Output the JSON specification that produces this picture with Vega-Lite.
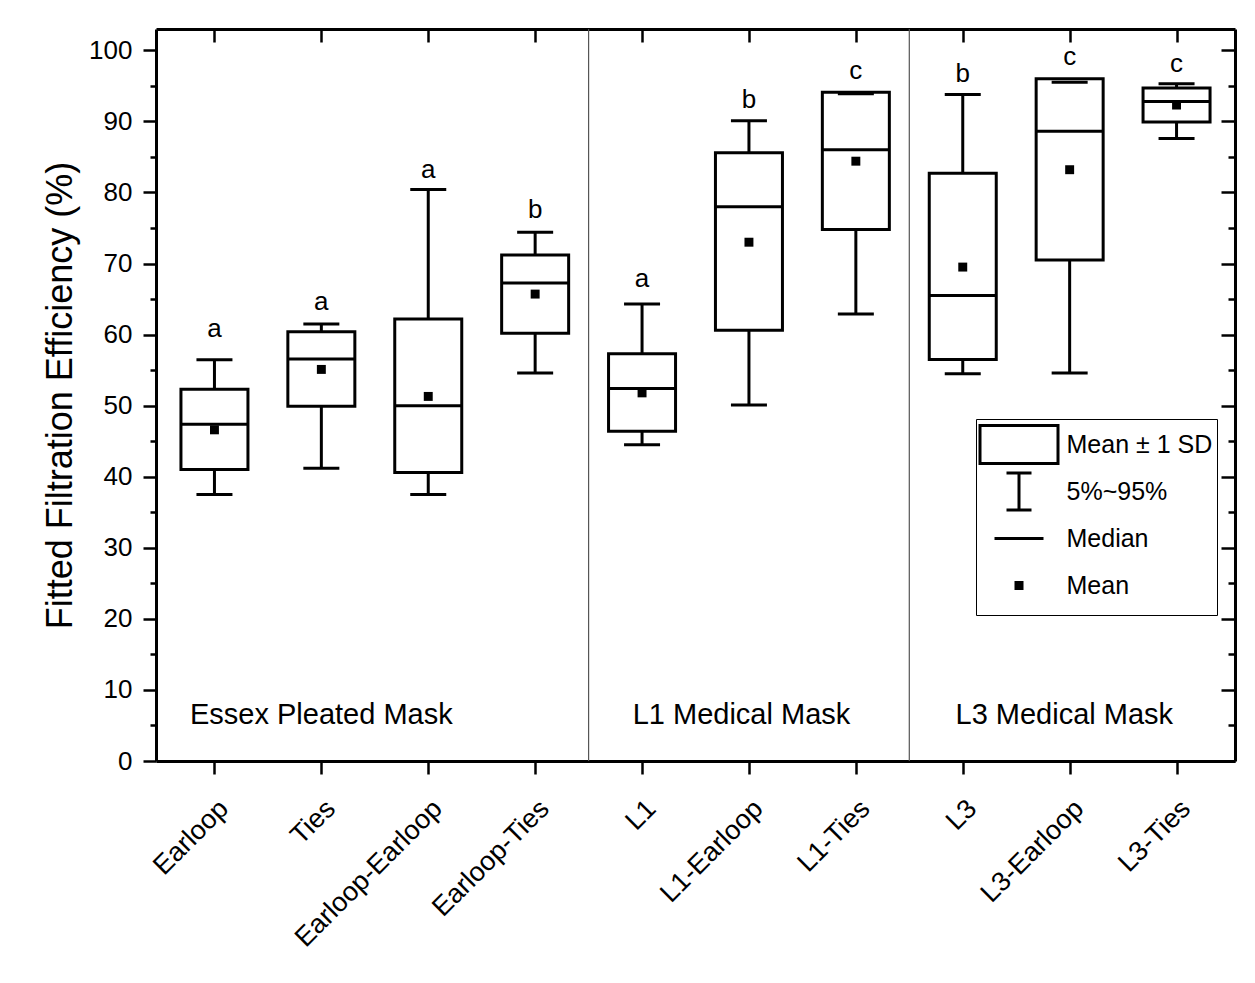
{
  "$schema": "https://vega.github.io/schema/vega-lite/v6.json",
  "width": 1079,
  "height": 732,
  "autosize": {"type": "none"},
  "padding": {"left": 156, "top": 29, "right": 20, "bottom": 222},
  "background": "white",
  "config": {
    "font": "Liberation Sans",
    "view": {"stroke": null},
    "axis": {"grid": false, "domainColor": "black", "tickColor": "black", "labelColor": "black", "titleColor": "black", "domainWidth": 3, "tickWidth": 2.5, "labelFlush": false, "labelOverlap": false, "labelBound": false, "labelLimit": 400}
  },
  "datasets": {
    "boxes": [
      {"cond": "Earloop", "pos": 1, "sd_lo": 41.0, "sd_hi": 52.3, "p5": 37.5, "p95": 56.45, "median": 47.4, "mean": 46.6, "letter": "a", "letter_y": 59.7},
      {"cond": "Ties", "pos": 2, "sd_lo": 49.9, "sd_hi": 60.4, "p5": 41.2, "p95": 61.5, "median": 56.55, "mean": 55.1, "letter": "a", "letter_y": 63.5},
      {"cond": "Earloop-Earloop", "pos": 3, "sd_lo": 40.6, "sd_hi": 62.2, "p5": 37.5, "p95": 80.4, "median": 50.0, "mean": 51.3, "letter": "a", "letter_y": 82.1},
      {"cond": "Earloop-Ties", "pos": 4, "sd_lo": 60.2, "sd_hi": 71.2, "p5": 54.6, "p95": 74.4, "median": 67.25, "mean": 65.7, "letter": "b", "letter_y": 76.4},
      {"cond": "L1", "pos": 5, "sd_lo": 46.4, "sd_hi": 57.3, "p5": 44.5, "p95": 64.3, "median": 52.4, "mean": 51.8, "letter": "a", "letter_y": 66.7},
      {"cond": "L1-Earloop", "pos": 6, "sd_lo": 60.6, "sd_hi": 85.6, "p5": 50.1, "p95": 90.1, "median": 78.0, "mean": 73.0, "letter": "b", "letter_y": 91.9},
      {"cond": "L1-Ties", "pos": 7, "sd_lo": 74.8, "sd_hi": 94.1, "p5": 62.9, "p95": 93.9, "median": 86.0, "mean": 84.4, "letter": "c", "letter_y": 95.9},
      {"cond": "L3", "pos": 8, "sd_lo": 56.5, "sd_hi": 82.7, "p5": 54.5, "p95": 93.8, "median": 65.5, "mean": 69.5, "letter": "b", "letter_y": 95.6},
      {"cond": "L3-Earloop", "pos": 9, "sd_lo": 70.5, "sd_hi": 96.0, "p5": 54.6, "p95": 95.5, "median": 88.6, "mean": 83.2, "letter": "c", "letter_y": 98.0},
      {"cond": "L3-Ties", "pos": 10, "sd_lo": 89.9, "sd_hi": 94.7, "p5": 87.6, "p95": 95.3, "median": 92.8, "mean": 92.3, "letter": "c", "letter_y": 97.0}
    ],
    "groups": [
      {"group": "Essex Pleated Mask", "gx": 2.0, "gy": 5.15},
      {"group": "L1 Medical Mask", "gx": 5.93, "gy": 5.15},
      {"group": "L3 Medical Mask", "gx": 8.95, "gy": 5.15}
    ],
    "seps": [{"boundary": 4.5}, {"boundary": 7.5}],
    "legenditems": [{"item": "Mean ± 1 SD"}, {"item": "5%~95%"}, {"item": "Median"}, {"item": "Mean"}]
  },
  "resolve": {"axis": {"x": "independent", "y": "independent"}},
  "layer": [
    {
      "data": {"name": "seps"},
      "mark": {"type": "rule", "color": "#555555", "strokeWidth": 1.2},
      "encoding": {
        "x": {"field": "boundary", "type": "quantitative", "scale": {"domain": [0.5, 10.5], "nice": false, "zero": false}, "axis": null}
      }
    },
    {
      "data": {"name": "boxes"},
      "mark": {"type": "rule", "color": "black", "strokeWidth": 3},
      "encoding": {
        "x": {"field": "pos", "type": "quantitative", "scale": {"domain": [0.5, 10.5], "nice": false, "zero": false},
              "axis": {"orient": "top", "values": [1, 2, 3, 4, 5, 6, 7, 8, 9, 10], "labels": false, "tickSize": -13, "title": null}},
        "y": {"field": "p5", "type": "quantitative", "scale": {"domain": [0, 103], "nice": false, "zero": false},
              "axis": {"orient": "right", "values": [0, 10, 20, 30, 40, 50, 60, 70, 80, 90, 100], "labels": false, "tickSize": -14, "title": null}},
        "y2": {"field": "p95"}
      }
    },
    {
      "data": {"name": "boxes"},
      "mark": {"type": "bar", "fill": "white", "stroke": "black", "strokeWidth": 3, "size": 67},
      "encoding": {
        "x": {"field": "pos", "type": "quantitative", "scale": {"domain": [0.5, 10.5], "nice": false, "zero": false},
              "axis": {"orient": "bottom", "values": [1, 2, 3, 4, 5, 6, 7, 8, 9, 10],
                       "labelExpr": "['', 'Earloop', 'Ties', 'Earloop-Earloop', 'Earloop-Ties', 'L1', 'L1-Earloop', 'L1-Ties', 'L3', 'L3-Earloop', 'L3-Ties'][datum.value]",
                       "labelAngle": -45, "labelAlign": "right", "labelBaseline": "top", "labelPadding": 21, "labelFontSize": 27, "tickSize": 13, "title": null}},
        "y": {"field": "sd_lo", "type": "quantitative", "scale": {"domain": [0, 103], "nice": false, "zero": false},
              "axis": {"orient": "left", "values": [0, 10, 20, 30, 40, 50, 60, 70, 80, 90, 100], "tickSize": 13, "labelFontSize": 26, "labelPadding": 11,
                       "title": "Fitted Filtration Efficiency (%)", "titleFontSize": 36, "titleFontWeight": "normal", "titlePadding": 9}},
        "y2": {"field": "sd_hi"}
      }
    },
    {
      "data": {"name": "boxes"},
      "mark": {"type": "tick", "orient": "horizontal", "size": 36, "thickness": 3, "color": "black", "opacity": 1},
      "encoding": {
        "x": {"field": "pos", "type": "quantitative", "scale": {"domain": [0.5, 10.5], "nice": false, "zero": false}, "axis": null},
        "y": {"field": "p95", "type": "quantitative", "scale": {"domain": [0, 103], "nice": false, "zero": false},
              "axis": {"orient": "left", "values": [5, 15, 25, 35, 45, 55, 65, 75, 85, 95], "labels": false, "domain": false, "tickSize": 6, "title": null}}
      }
    },
    {
      "data": {"name": "boxes"},
      "mark": {"type": "tick", "orient": "horizontal", "size": 36, "thickness": 3, "color": "black", "opacity": 1},
      "encoding": {
        "x": {"field": "pos", "type": "quantitative", "scale": {"domain": [0.5, 10.5], "nice": false, "zero": false}, "axis": null},
        "y": {"field": "p5", "type": "quantitative", "scale": {"domain": [0, 103], "nice": false, "zero": false},
              "axis": {"orient": "right", "values": [5, 15, 25, 35, 45, 55, 65, 75, 85, 95], "labels": false, "domain": false, "tickSize": -7, "title": null}}
      }
    },
    {
      "data": {"name": "boxes"},
      "mark": {"type": "tick", "orient": "horizontal", "size": 68, "thickness": 3, "color": "black", "opacity": 1},
      "encoding": {
        "x": {"field": "pos", "type": "quantitative", "scale": {"domain": [0.5, 10.5], "nice": false, "zero": false}, "axis": null},
        "y": {"field": "median", "type": "quantitative", "scale": {"domain": [0, 103], "nice": false, "zero": false}, "axis": null}
      }
    },
    {
      "data": {"name": "boxes"},
      "mark": {"type": "point", "shape": "square", "filled": true, "color": "black", "size": 80, "opacity": 1},
      "encoding": {
        "x": {"field": "pos", "type": "quantitative", "scale": {"domain": [0.5, 10.5], "nice": false, "zero": false}, "axis": null},
        "y": {"field": "mean", "type": "quantitative", "scale": {"domain": [0, 103], "nice": false, "zero": false}, "axis": null}
      }
    },
    {
      "data": {"name": "boxes"},
      "mark": {"type": "text", "fontSize": 26, "baseline": "alphabetic", "align": "center", "color": "black"},
      "encoding": {
        "x": {"field": "pos", "type": "quantitative", "scale": {"domain": [0.5, 10.5], "nice": false, "zero": false}, "axis": null},
        "y": {"field": "letter_y", "type": "quantitative", "scale": {"domain": [0, 103], "nice": false, "zero": false}, "axis": null},
        "text": {"field": "letter"}
      }
    },
    {
      "data": {"name": "groups"},
      "mark": {"type": "text", "fontSize": 29, "baseline": "alphabetic", "align": "center", "color": "black"},
      "encoding": {
        "x": {"field": "gx", "type": "quantitative", "scale": {"domain": [0.5, 10.5], "nice": false, "zero": false}, "axis": null},
        "y": {"field": "gy", "type": "quantitative", "scale": {"domain": [0, 103], "nice": false, "zero": false}, "axis": null},
        "text": {"field": "group"}
      }
    },
    {
      "data": {"name": "legenditems"},
      "mark": {"type": "point", "size": 0, "filled": true, "stroke": "black", "strokeWidth": 3},
      "encoding": {
        "shape": {"field": "item", "type": "nominal",
                  "scale": {"domain": ["Mean ± 1 SD", "5%~95%", "Median", "Mean"],
                            "range": ["M-1.95,-0.95M1.95,0.95M-1.95,-0.95H1.95V0.95H-1.95Z",
                                      "M-1.95,-0.95M1.95,0.95M-0.625,-0.93H0.625M0,-0.93V0.93M-0.625,0.93H0.625",
                                      "M-1.95,-0.95M1.95,0.95M-1.225,0H1.225",
                                      "M-1.95,-0.95M1.95,0.95M-0.15,-0.15H0.15V0.15H-0.15Z"]},
                  "legend": {"title": null, "orient": "none", "legendX": 820, "legendY": 390, "symbolSize": 1600, "symbolStrokeWidth": 3, "symbolStrokeColor": "black", "symbolOpacity": 1,
                             "labelFontSize": 25, "labelColor": "black", "labelOffset": 26, "symbolOffset": 17.5, "rowPadding": -6, "padding": 4,
                             "strokeColor": "black", "fillColor": "white", "labelLimit": 400,
                             "encode": {"symbols": {"update": {"stroke": {"value": "black"}, "strokeWidth": {"value": 3}, "opacity": {"value": 1}}}}}},
        "fill": {"field": "item", "type": "nominal",
                 "scale": {"domain": ["Mean ± 1 SD", "5%~95%", "Median", "Mean"], "range": ["white", "black", "black", "black"]},
                 "legend": {"title": null, "orient": "none", "legendX": 820, "legendY": 390, "symbolSize": 1600, "symbolStrokeWidth": 3, "symbolStrokeColor": "black", "symbolOpacity": 1,
                            "labelFontSize": 25, "labelColor": "black", "labelOffset": 26, "symbolOffset": 17.5, "rowPadding": -6, "padding": 4,
                            "strokeColor": "black", "fillColor": "white", "labelLimit": 400,
                            "encode": {"symbols": {"update": {"stroke": {"value": "black"}, "strokeWidth": {"value": 3}, "opacity": {"value": 1}}}}}}
      }
    }
  ]
}
